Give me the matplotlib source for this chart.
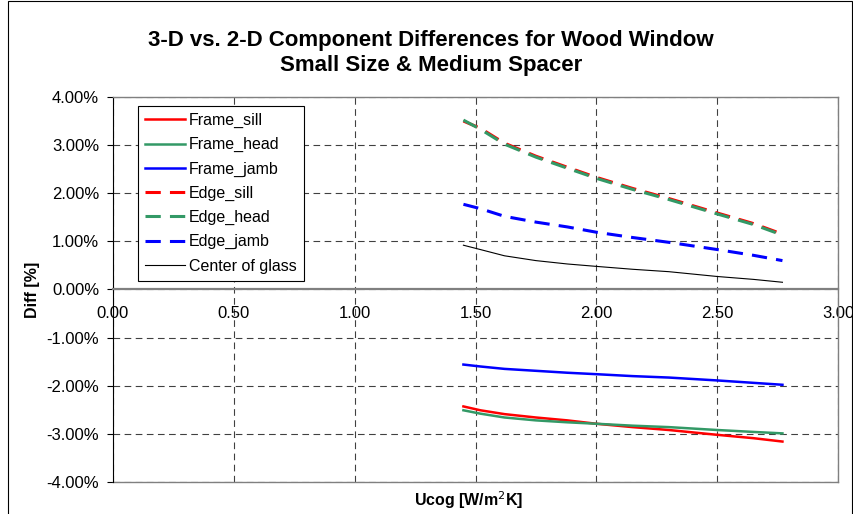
import numpy as np
import matplotlib.pyplot as plt
from matplotlib.patches import Rectangle
from matplotlib.ticker import FuncFormatter

plt.rcParams['font.family'] = ['Liberation Sans', 'DejaVu Sans']

ucog = [1.45, 1.52, 1.62, 1.75, 1.88, 2.00, 2.15, 2.30, 2.50, 2.65, 2.77]

frame_sill = [-2.43, -2.51, -2.59, -2.66, -2.72, -2.79, -2.86, -2.92, -3.02, -3.09, -3.16]
frame_head = [-2.51, -2.58, -2.66, -2.72, -2.76, -2.79, -2.83, -2.86, -2.92, -2.96, -2.99]
frame_jamb = [-1.56, -1.60, -1.65, -1.69, -1.73, -1.76, -1.80, -1.83, -1.89, -1.94, -1.98]
edge_sill = [3.50, 3.35, 3.04, 2.77, 2.54, 2.33, 2.10, 1.89, 1.59, 1.37, 1.15]
edge_head = [3.52, 3.33, 3.02, 2.75, 2.52, 2.31, 2.08, 1.87, 1.57, 1.35, 1.13]
edge_jamb = [1.77, 1.68, 1.52, 1.40, 1.30, 1.19, 1.08, 0.98, 0.83, 0.71, 0.60]
center_glass = [0.92, 0.83, 0.70, 0.60, 0.53, 0.48, 0.42, 0.37, 0.27, 0.21, 0.15]

red = '#FF0000'
green = '#339966'
blue = '#0000FF'

fig = plt.figure(figsize=(8.54, 5.14), dpi=100)
ax = fig.add_axes([0.1323, 0.0623, 0.849, 0.749])

# outer chart border
fig.patches.append(Rectangle((8 / 854, -0.05), 844 / 854, 1.049, transform=fig.transFigure,
                             fill=False, edgecolor='black', linewidth=0.8))

dash = (0, (5, 3))
ax.plot(ucog, frame_sill, color=red, lw=1.8, label='Frame_sill')
ax.plot(ucog, frame_head, color=green, lw=1.8, label='Frame_head')
ax.plot(ucog, frame_jamb, color=blue, lw=1.8, label='Frame_jamb')
ax.plot(ucog, edge_sill, color=red, lw=2.2, ls=dash, label='Edge_sill')
ax.plot(ucog, edge_head, color=green, lw=2.2, ls=dash, label='Edge_head')
ax.plot(ucog, edge_jamb, color=blue, lw=2.2, ls=dash, label='Edge_jamb')
ax.plot(ucog, center_glass, color='black', lw=0.8, label='Center of glass')

ax.set_xlim(0, 3)
ax.set_ylim(-4, 4)
ax.set_xticks(np.arange(0, 3.01, 0.5))
ax.set_yticks(np.arange(-4, 4.01, 1))
ax.xaxis.set_major_formatter(FuncFormatter(lambda v, p: f'{v:.2f}'))
ax.yaxis.set_major_formatter(FuncFormatter(lambda v, p: f'{v:.2f}%'))

ax.grid(True, color='black', linestyle=(0, (6, 4)), linewidth=0.8, alpha=0.75)
ax.set_axisbelow(True)

for s in ['top', 'right']:
    ax.spines[s].set_color('#808080')
    ax.spines[s].set_linewidth(1.0)
ax.spines['left'].set_color('black')
ax.spines['bottom'].set_position(('data', 0))
ax.spines['bottom'].set_color('#808080')
ax.spines['bottom'].set_linewidth(1.6)
ax.plot([0, 1], [0, 0], transform=ax.transAxes, color='#808080', lw=1.0, clip_on=False)

ax.tick_params(axis='y', direction='out', length=4, labelsize=12, colors='black', pad=6)
ax.tick_params(axis='x', direction='inout', length=0, labelsize=12, pad=12)

ax.set_xlabel('Ucog [W/m$^2$K]', fontsize=11.5, fontweight='bold')
ax.xaxis.set_label_coords(0.49, -0.02)
ax.set_ylabel('Diff [%]', fontsize=11.5, fontweight='bold')
ax.yaxis.set_label_coords(-0.1, 0.5)

fig.text(0.505, 0.896, '3-D vs. 2-D Component Differences for Wood Window\nSmall Size & Medium Spacer',
         ha='center', va='center', fontsize=16, fontweight='bold', linespacing=1.25)

leg = ax.legend(loc='upper left', bbox_to_anchor=(0.0345, 0.977), fontsize=11.5, frameon=True,
                fancybox=False, edgecolor='black', framealpha=1, handlelength=2.5,
                labelspacing=0.57, borderpad=0.45, handletextpad=0.25, borderaxespad=0)
leg.get_frame().set_linewidth(0.8)

fig.savefig('out.png', dpi=100)
